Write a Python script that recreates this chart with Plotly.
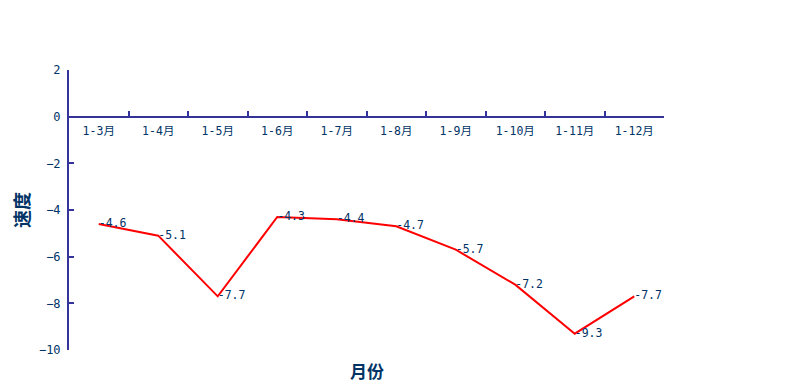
import plotly.graph_objects as go

months = ["1-3月", "1-4月", "1-5月", "1-6月", "1-7月", "1-8月", "1-9月", "1-10月", "1-11月", "1-12月"]
speed = [-4.6, -5.1, -7.7, -4.3, -4.4, -4.7, -5.7, -7.2, -9.3, -7.7]
labels = [f"{v:.1f}" for v in speed]

axis_color = "#333399"
text_color = "#003366"
font_family = "SimSun, 'DejaVu Sans Mono', 'Noto Sans CJK SC', monospace"
title_family = "'Noto Sans CJK SC', serif"

fig = go.Figure()
fig.add_trace(go.Scatter(
    x=months, y=speed, mode="lines+text",
    line=dict(color="#ff0000", width=2),
    text=labels, textposition="middle right",
    textfont=dict(family=font_family, size=11.5, color=text_color),
    cliponaxis=False, hoverinfo="skip",
))

fig.update_layout(
    width=795, height=392,
    margin=dict(l=61, r=139, t=62, b=50, autoexpand=False),
    paper_bgcolor="white", plot_bgcolor="white",
    showlegend=False,
    xaxis=dict(
        type="category", range=[-0.5, 9.5],
        anchor="free", position=10 / 12,
        showline=True, linecolor=axis_color, linewidth=2,
        ticks="inside", tickson="boundaries", ticklen=5, tickwidth=2, tickcolor=axis_color,
        showgrid=False, zeroline=False, ticklabelstandoff=4,
        tickfont=dict(family=font_family, size=11.5, color=text_color),
    ),
    yaxis=dict(
        range=[-10, 2], dtick=2, tick0=0,
        showline=True, linecolor=axis_color, linewidth=2,
        ticks="inside", ticklen=5, tickwidth=2, tickcolor=axis_color,
        showgrid=False, zeroline=False, ticklabelstandoff=4,
        tickfont=dict(family=font_family, size=12, color=text_color),
        title=dict(text="<b>速度</b>", standoff=10,
                   font=dict(family=title_family, size=18, color=text_color)),
    ),
    annotations=[dict(
        text="<b>月份</b>", xref="paper", yref="paper", x=0.5, y=0,
        yshift=-20, xanchor="center", yanchor="middle", showarrow=False,
        font=dict(family=title_family, size=17, color=text_color),
    )],
)

fig.write_html("out.html")
